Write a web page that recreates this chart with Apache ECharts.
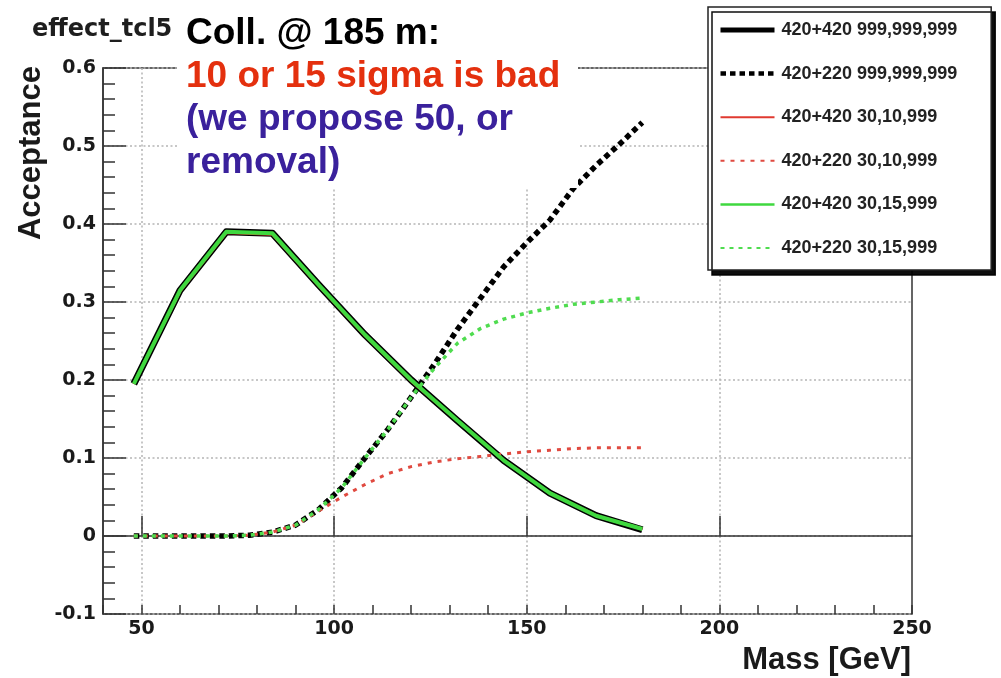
<!DOCTYPE html>
<html><head><meta charset="utf-8">
<script src="https://cdn.jsdelivr.net/npm/echarts@6/dist/echarts.min.js"></script>
<style>html,body{margin:0;padding:0;background:#fff}#c{width:1001px;height:678px}</style>
</head><body><div id="c"></div>
<script>
// ---- data ----
const massCoarse = [48, 60, 72, 84, 96, 108, 120, 132, 144, 156, 168, 180];
const massFine = [48, 54, 60, 66, 72, 78, 84, 90, 96, 102, 108, 114, 120, 126, 132, 138, 144, 150, 156, 162, 168, 174, 180];

const acc420420_999 = [0.195, 0.315, 0.390, 0.388, 0.322, 0.258, 0.200, 0.148, 0.097, 0.055, 0.026, 0.008];
const acc420420_3010 = [0.195, 0.314, 0.389, 0.387, 0.321, 0.257, 0.199, 0.148, 0.097, 0.055, 0.026, 0.009];
const acc420420_3015 = [0.195, 0.315, 0.390, 0.388, 0.322, 0.258, 0.200, 0.148, 0.097, 0.055, 0.026, 0.009];

const acc420220_999 = [0, 0, 0, 0, 0, 0.001, 0.005, 0.014, 0.034, 0.062, 0.100, 0.137, 0.178, 0.220, 0.265, 0.305, 0.345, 0.376, 0.405, 0.445, 0.475, 0.502, 0.530];
const acc420220_3010 = [0, 0, 0, 0, 0, 0.001, 0.005, 0.014, 0.032, 0.050, 0.066, 0.080, 0.089, 0.095, 0.099, 0.102, 0.105, 0.108, 0.110, 0.112, 0.113, 0.113, 0.113];
const acc420220_3015 = [0, 0, 0, 0, 0, 0.001, 0.005, 0.014, 0.034, 0.062, 0.100, 0.137, 0.178, 0.215, 0.247, 0.266, 0.278, 0.286, 0.292, 0.297, 0.300, 0.303, 0.305];

const seriesNames = ['420+420 999,999,999', '420+220 999,999,999', '420+420 30,10,999', '420+220 30,10,999', '420+420 30,15,999', '420+220 30,15,999'];
const xLabelValues = [50, 100, 150, 200, 250];
const xGridValues = [50, 100, 150, 200];
const chartTitle = 'effect_tcl5';
const xTitle = 'Mass [GeV]';
const yTitle = 'Acceptance';
const noteLines = ['Coll. @ 185 m:', '10 or 15 sigma is bad', '(we propose 50, or', 'removal)'];

// ---- chart ----
const pair = (xs, ys) => xs.map((x, i) => [x, ys[i]]);
const chart = echarts.init(document.getElementById('c'), null, {renderer: 'canvas'});

const styles = [
  {color: '#000000', width: 7, type: 'solid'},
  {color: '#000000', width: 5.5, type: [5.5, 4]},
  {color: '#e03a30', width: 3, type: 'solid'},
  {color: '#e04a40', width: 3, type: [4, 6]},
  {color: '#3fd83f', width: 4, type: 'solid'},
  {color: '#4fdc4f', width: 3.5, type: [4, 5]}
];
const legendWidths = [5, 4.5, 2, 2, 2.5, 2];
const seriesData = [
  pair(massCoarse, acc420420_999),
  pair(massFine, acc420220_999),
  pair(massCoarse, acc420420_3010),
  pair(massFine, acc420220_3010),
  pair(massCoarse, acc420420_3015),
  pair(massFine, acc420220_3015)
];

const series = seriesNames.map((n, i) => ({
  name: n, type: 'line', data: seriesData[i], symbol: 'none', silent: true,
  xAxisIndex: 0, yAxisIndex: 0, z: 2 + i * 0.1,
  lineStyle: {color: styles[i].color, width: styles[i].width, type: styles[i].type, cap: 'butt', join: 'round'},
  itemStyle: {color: styles[i].color},
  animation: false
}));

const tickFont = {fontFamily: 'DejaVu Sans', fontWeight: 'bold', fontSize: 19, color: '#1a1a1a'};

chart.setOption({
  animation: false,
  backgroundColor: '#ffffff',
  title: {text: chartTitle, left: 27, top: 13, textStyle: {fontFamily: 'DejaVu Sans', fontWeight: 'bold', fontSize: 24, color: '#1e1e1e'}},
  grid: {left: 103, right: 89, top: 68, bottom: 64, show: true, borderColor: '#333', borderWidth: 1.5, backgroundColor: 'transparent'},
  legend: {
    orient: 'vertical', left: 708, top: 7,
    padding: [13, 34, 12, 10],
    itemWidth: 54, itemHeight: 20, itemGap: 23.6,
    backgroundColor: '#fff', borderColor: '#222', borderWidth: 1.5,
    shadowColor: 'rgba(0,0,0,0.95)', shadowBlur: 0, shadowOffsetX: 4, shadowOffsetY: 5,
    textStyle: {fontFamily: 'Liberation Sans', fontWeight: 'bold', fontSize: 18, lineHeight: 20, color: '#222', padding: [0, 0, 0, 2]},
    selectedMode: false,
    itemStyle: {opacity: 0},
    data: seriesNames.map((n, i) => ({name: n, itemStyle: {opacity: 0}, lineStyle: {width: legendWidths[i]}})),
    z: 20
  },
  xAxis: [{
    type: 'value', min: 40, max: 250, interval: 10,
    axisLine: {show: true, lineStyle: {color: '#333', width: 1.5}},
    axisTick: {show: true, inside: true, length: 20, customValues: xGridValues, lineStyle: {color: '#333', width: 1.5}},
    axisLabel: {show: true, customValues: xLabelValues, margin: 6, ...tickFont},
    splitLine: {show: true, lineStyle: {color: '#b5b5b5', width: 1.5, type: [2, 2.5]}}
  }, {
    type: 'value', min: 40, max: 250, interval: 10, position: 'bottom',
    axisLine: {show: false},
    axisTick: {show: true, inside: true, length: 9, lineStyle: {color: '#333', width: 1.5}},
    axisLabel: {show: false},
    splitLine: {show: false}
  }],
  yAxis: {
    type: 'value', min: -0.1, max: 0.6, interval: 0.1,
    axisLine: {show: true, lineStyle: {color: '#333', width: 1.5}},
    axisTick: {show: true, inside: true, length: 23, lineStyle: {color: '#333', width: 1.5}},
    minorTick: {show: true, splitNumber: 5, length: 12, lineStyle: {color: '#333', width: 1.5}},
    axisLabel: {margin: 7, formatter: v => String(Number(v.toFixed(1))), ...tickFont},
    splitLine: {show: true, lineStyle: {color: '#b5b5b5', width: 1.5, type: [2, 2.5]}}
  },
  series: series,
  graphic: [
    {type: 'rect', shape: {x: 177, y: 10, width: 401, height: 178}, style: {fill: '#fff'}, z: 10, silent: true},
    {type: 'text', x: 186, y: 12, z: 11, silent: true, style: {
      text: '{a|' + noteLines[0] + '}\n{b|' + noteLines[1] + '}\n{c|' + noteLines[2] + '}\n{c|' + noteLines[3] + '}',
      rich: {
        a: {fontFamily: 'Liberation Sans', fontWeight: 'bold', fontSize: 37, lineHeight: 43, fill: '#000'},
        b: {fontFamily: 'Liberation Sans', fontWeight: 'bold', fontSize: 37, lineHeight: 43, fill: '#e4300e'},
        c: {fontFamily: 'Liberation Sans', fontWeight: 'bold', fontSize: 37, lineHeight: 43, fill: '#3a219c'}
      }
    }},
    {type: 'text', x: 31, y: 66, rotation: Math.PI / 2, z: 11, silent: true, style: {
      text: yTitle, fontFamily: 'Liberation Sans', fontWeight: 'bold', fontSize: 31, fill: '#1a1a1a', align: 'right', verticalAlign: 'middle'}},
    {type: 'text', x: 911, y: 660, z: 11, silent: true, style: {
      text: xTitle, fontFamily: 'Liberation Sans', fontWeight: 'bold', fontSize: 31, fill: '#1a1a1a', align: 'right', verticalAlign: 'middle'}}
  ]
});
</script>
</body></html>
